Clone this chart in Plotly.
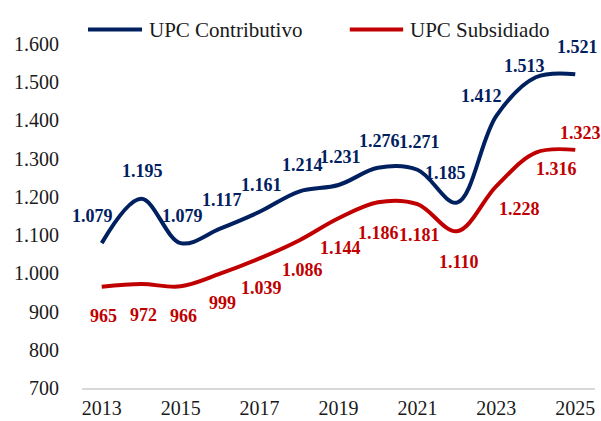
import plotly.graph_objs as go

years = list(range(2013, 2026))
contributivo = [1079, 1195, 1079, 1117, 1161, 1214, 1231, 1276, 1271, 1185, 1412, 1513, 1521]
subsidiado = [965, 972, 966, 999, 1039, 1086, 1144, 1186, 1181, 1110, 1228, 1316, 1323]
x_ticks = list(range(2013, 2026, 2))
y_ticks = list(range(700, 1601, 100))

blueColor = '#002060'
redColor = '#C00000'
fontName = 'Liberation Serif, Times New Roman, serif'

# label offsets in pixels (dx, dy) relative to each point, as in the source chart
blueOffsets = [(-9, 27), (1, 28), (2, 27), (2, 29), (2, 27), (3, 27), (2, 28),
               (2, 27), (2, 28), (-11, 30), (-15, 20), (-11, 11), (2, 27)]
redOffsets = [(2, -29), (2, -31), (3, -30), (2, -29), (2, -30), (3, -30), (2, -30),
              (1, -31), (2, -31), (2, -31), (23, -23), (21, -16), (5, 17)]


def fmt(v):
    return f"{v:,}".replace(",", ".")


fig = go.Figure()
fig.add_trace(go.Scatter(x=years, y=contributivo, mode='lines', name='UPC Contributivo',
                         line=dict(color=blueColor, width=4, shape='spline', smoothing=1.0)))
fig.add_trace(go.Scatter(x=years, y=subsidiado, mode='lines', name='UPC Subsidiado',
                         line=dict(color=redColor, width=4, shape='spline', smoothing=1.0)))

annotations = []
for series, offsets, color in [(contributivo, blueOffsets, blueColor), (subsidiado, redOffsets, redColor)]:
    for x, v, (dx, dy) in zip(years, series, offsets):
        annotations.append(dict(x=x, y=v, text=fmt(v), showarrow=False,
                                xshift=dx, yshift=dy, xanchor='center', yanchor='middle',
                                font=dict(family=fontName, size=18, color=color, weight='bold')))

# hand drawn legend, placed above the plot area like the original
legendItems = [('UPC Contributivo', blueColor, 0.0117, 0.117, 0.127),
               ('UPC Subsidiado', redColor, 0.522, 0.626, 0.635)]
shapes = []
for name, color, x0, x1, xt in legendItems:
    shapes.append(dict(type='line', xref='paper', yref='paper', x0=x0, x1=x1, y0=1.042, y1=1.042,
                       line=dict(color=color, width=4)))
    annotations.append(dict(x=xt, y=1.042, xref='paper', yref='paper', text=name, showarrow=False,
                            xanchor='left', yanchor='middle',
                            font=dict(family=fontName, size=21, color='#1a1a1a')))

fig.update_layout(
    width=601, height=421,
    margin=dict(l=82, r=6, t=44, b=33),
    plot_bgcolor='white', paper_bgcolor='white',
    showlegend=False,
    separators=',.',
    font=dict(family=fontName, size=20, color='#1a1a1a'),
    annotations=annotations,
    shapes=shapes,
    xaxis=dict(range=[2012.5, 2025.5], tickvals=x_ticks, ticktext=[str(t) for t in x_ticks],
               showgrid=False, zeroline=False, showline=True, linecolor='#d9d9d9', linewidth=1.5,
               ticks='', ticklabelstandoff=1, tickfont=dict(size=20), automargin=False),
    yaxis=dict(range=[700, 1600], tickvals=y_ticks, tickformat=',d',
               showgrid=False, zeroline=False, showline=False,
               ticks='', ticklabelstandoff=22, tickfont=dict(size=20), automargin=False),
)

fig.write_html("out.html", config={'displayModeBar': False},
               post_script="document.body.style.margin='0';")
